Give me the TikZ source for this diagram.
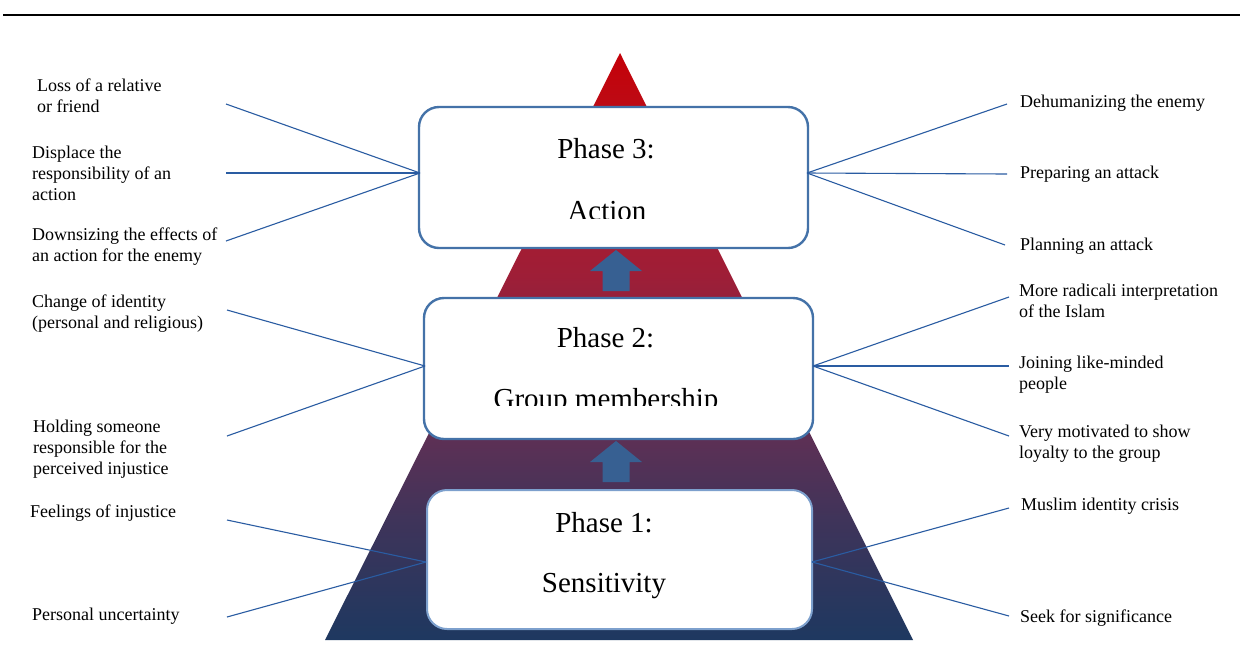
\documentclass[tikz,border=0pt]{standalone}
\usepackage{fontspec}
\setmainfont{Liberation Serif}
\definecolor{boxblue}{RGB}{68,114,168}
\definecolor{boxlight}{RGB}{125,160,205}
\definecolor{connblue}{RGB}{42,92,162}
\definecolor{arrowblue}{RGB}{55,96,146}
\pgfdeclareverticalshading{pyr}{100bp}{%
  color(0bp)=(rgb,255:red,30;green,56;blue,96);
  color(25bp)=(rgb,255:red,30;green,56;blue,96);
  color(35bp)=(rgb,255:red,62;green,52;blue,90);
  color(42bp)=(rgb,255:red,92;green,48;blue,85);
  color(50bp)=(rgb,255:red,130;green,38;blue,68);
  color(56bp)=(rgb,255:red,158;green,30;blue,55);
  color(62bp)=(rgb,255:red,170;green,26;blue,46);
  color(70bp)=(rgb,255:red,188;green,12;blue,22);
  color(75bp)=(rgb,255:red,196;green,0;blue,8);
  color(100bp)=(rgb,255:red,196;green,0;blue,8)}
\begin{document}
\begin{tikzpicture}[x=1pt,y=-1pt,
  phasebox/.style={draw=boxblue,line width=2.4pt,fill=white,rounded corners=20pt,inner sep=0pt},
  phasetext/.style={font=\fontsize{29}{34}\selectfont,anchor=base,inner sep=0pt},
  lbl/.style={font=\fontsize{18}{21}\selectfont,align=left,anchor=west,inner sep=0pt},
  conn/.style={draw=connblue,line width=1.1pt},
  uparrow/.pic={\fill[arrowblue] (0,0) -- (26,21) -- (13.5,21) -- (13.5,41) -- (-13.5,41) -- (-13.5,21) -- (-26,21) -- cycle;}]
\useasboundingbox (0,0) rectangle (1240,657);
\fill[white] (0,0) rectangle (1240,657);
% top rule
\draw[line width=2.6pt,black] (3,15) -- (1240,15);
% pyramid
\shade[shading=pyr] (325,640) -- (620,53) -- (913,640) -- cycle;
% arrows
\pic at (616,250) {uparrow};
\pic at (616,441) {uparrow};
% boxes
\node[phasebox,minimum width=389pt,minimum height=141pt] (b3) at (613.5,177.5) {};
\node[phasebox,minimum width=389pt,minimum height=141pt] (b2) at (618.5,368.5) {};
\node[phasebox,draw=boxlight,line width=2pt,minimum width=385pt,minimum height=139pt] (b1) at (619.5,559.5) {};
% phase texts
\node[phasetext] (t3a) at (606,158) {Phase 3:};
\begin{scope}
\clip (430,190) rectangle (800,218);
\node[phasetext] (t3b) at (607,220) {Action};
\end{scope}
\node[phasetext] (t2a) at (605.5,347) {Phase 2:};
\begin{scope}
\clip (430,370) rectangle (800,405);
\node[phasetext] (t2b) at (606,408) {Group membership};
\end{scope}
\node[phasetext] (t1a) at (604,532) {Phase 1:};
\node[phasetext] (t1b) at (604,592) {Sensitivity};
% left labels
\node[lbl] (l1) at (37,95.5) {Loss of a relative\\or friend};
\node[lbl] (l2) at (32,173.5) {Displace the\\responsibility of an\\action};
\node[lbl] (l3) at (32,246.5) {Downsizing the effects of\\an action for the enemy};
\node[lbl] (l4) at (32,313.5) {Change of identity\\(personal and religious)};
\node[lbl] (l5) at (33,449.5) {Holding someone\\responsible for the\\perceived injustice};
\node[lbl] (l6) at (30,513.5) {Feelings of injustice};
\node[lbl] (l7) at (32,616.5) {Personal uncertainty};
% right labels
\node[lbl] (r1) at (1020,103.5) {Dehumanizing the enemy};
\node[lbl] (r2) at (1020,174.5) {Preparing an attack};
\node[lbl] (r3) at (1020,246.5) {Planning an attack};
\node[lbl] (r4) at (1019,300.5) {More radicali interpretation\\of the Islam};
\node[lbl] (r5) at (1019,374.5) {Joining like-minded\\people};
\node[lbl] (r6) at (1019,443.5) {Very motivated to show\\loyalty to the group};
\node[lbl] (r7) at (1021,506.5) {Muslim identity crisis};
\node[lbl] (r8) at (1020,618.5) {Seek for significance};
% connector end points
\coordinate (j3l) at (420,173);
\coordinate (j2l) at (425,366);
\coordinate (j1l) at (426,562);
\coordinate (j3r) at (807,173);
\coordinate (j2r) at (813,366);
\coordinate (j1r) at (812,562);
\coordinate (el1) at (226,104);
\coordinate (el2) at (226,173);
\coordinate (el3) at (226,241);
\coordinate (el4) at (227,310);
\coordinate (el5) at (227,436);
\coordinate (el6) at (227,520);
\coordinate (el7) at (227,617);
\coordinate (er1) at (1007,104);
\coordinate (er2) at (1007,174);
\coordinate (er3) at (1005,245);
\coordinate (er4) at (1009,297);
\coordinate (er5) at (1009,366);
\coordinate (er6) at (1009,436);
\coordinate (er7) at (1009,508);
\coordinate (er8) at (1009,616);
% connectors
\draw[conn] (el1) -- (j3l);
\draw[conn] (el2) -- (j3l);
\draw[conn] (el3) -- (j3l);
\draw[conn] (el4) -- (j2l);
\draw[conn] (el5) -- (j2l);
\draw[conn] (el6) -- (j1l);
\draw[conn] (el7) -- (j1l);
\draw[conn] (j3r) -- (er1);
\draw[conn] (j3r) -- (er2);
\draw[conn] (j3r) -- (er3);
\draw[conn] (j2r) -- (er4);
\draw[conn] (j2r) -- (er5);
\draw[conn] (j2r) -- (er6);
\draw[conn] (j1r) -- (er7);
\draw[conn] (j1r) -- (er8);
\end{tikzpicture}
\end{document}
